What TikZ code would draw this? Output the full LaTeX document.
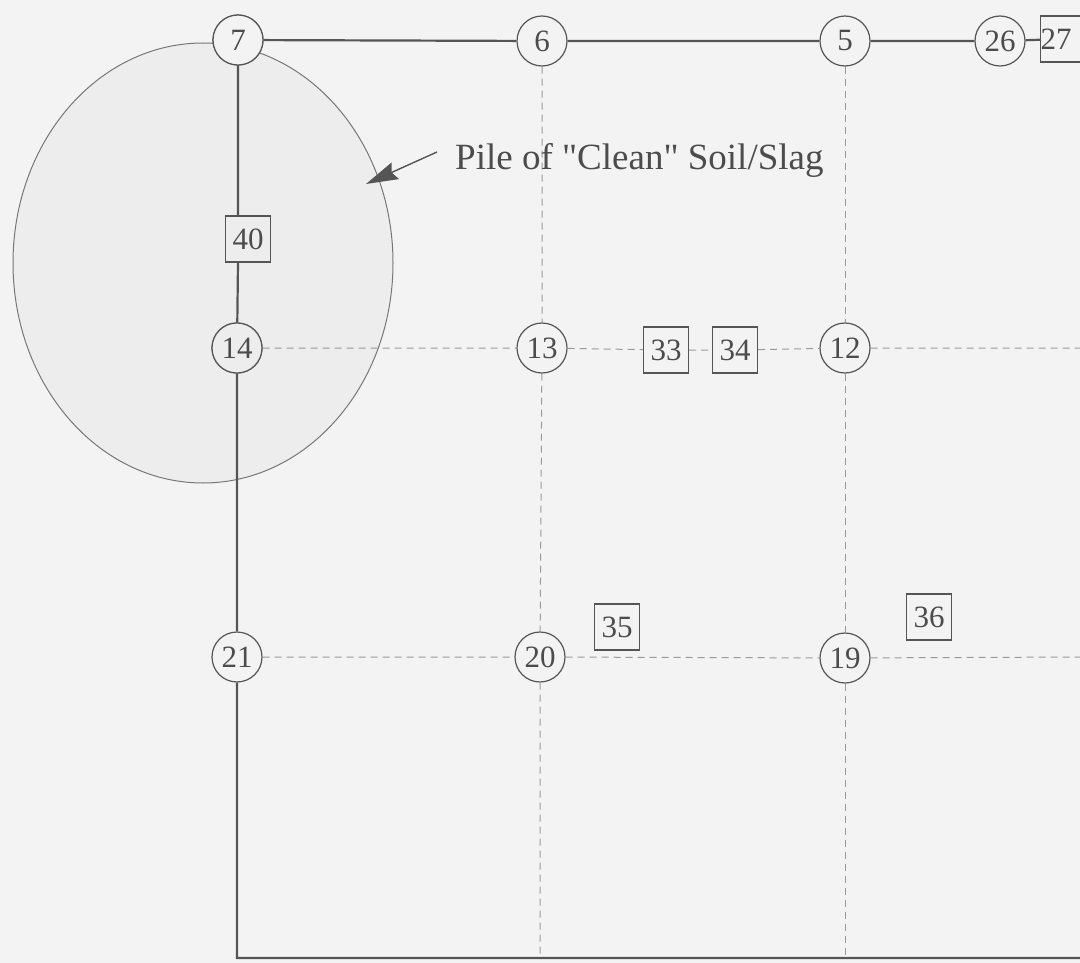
\documentclass[tikz,border=0pt]{standalone}
\usepackage{fontspec}
\setmainfont{Liberation Serif}[Ligatures=TeXOff]
\usetikzlibrary{arrows.meta}
\definecolor{bg}{HTML}{F3F3F3}
\definecolor{pile}{HTML}{EDEDED}
\definecolor{ink}{HTML}{555555}
\definecolor{dash}{HTML}{9A9A9A}
\begin{document}
\begin{tikzpicture}[x=1pt,y=-1pt,
  num/.style={font=\fontsize{31}{36}\selectfont, text=ink!90!black},
  well/.style={num, circle, draw=ink, line width=1.2pt, fill=bg, minimum size=50pt, inner sep=0pt},
  wellp/.style={well, fill=pile},
  sbox/.style={num, rectangle, draw=ink, line width=1.2pt, fill=bg, minimum width=45pt, minimum height=46pt, inner sep=0pt},
  sboxp/.style={sbox, fill=pile},
  solidline/.style={draw=ink, line width=2.2pt},
  dashline/.style={draw=dash, line width=1pt, dash pattern=on 7pt off 5pt},
]
\useasboundingbox (0,0) rectangle (1080,963);
\clip (0,0) rectangle (1080,963);
\fill[bg] (0,0) rectangle (1080,963);
% pile
\draw[fill=pile, draw=ink!80, line width=1pt] (203,263) ellipse [x radius=190, y radius=220];
% free ends
\coordinate (b1) at (237,958);
\coordinate (b2) at (540,958);
\coordinate (b3) at (845,958);
\coordinate (b4) at (1080,958);
\coordinate (r1) at (1080,348);
\coordinate (r2) at (1080,657);
% nodes
\node[well] (n7) at (238,40) {7};
\node[well] (n6) at (542,41) {6};
\node[well] (n5) at (845,41) {5};
\node[well] (n26) at (1000,41) {26};
\node[sbox, anchor=west] (n27) at (1040,39) {27\phantom{0}};
\node[sboxp] (n40) at (248,239) {40};
\node[wellp] (n14) at (237,348) {14};
\node[well] (n13) at (542,348) {13};
\node[sbox] (n33) at (666,350) {33};
\node[sbox] (n34) at (735,350) {34};
\node[well] (n12) at (845,348) {12};
\node[well] (n21) at (237,657) {21};
\node[well] (n20) at (540,657) {20};
\node[well] (n19) at (845,658) {19};
\node[sbox] (n35) at (617,627) {35};
\node[sbox] (n36) at (929,617) {36};
% solid lines
\path[solidline] (n7) -- (n6) (n6) -- (n5) (n5) -- (n26) (n26) -- (n27);
\path[solidline] (n7) -- (n7 |- n40.north) (n7 |- n40.south) -- (n14) (n14) -- (n21) (n21) -- (b1) -- (b4);
% dashed lines
\path[dashline] (n6) -- (n13) (n13) -- (n20) (n20) -- (b2);
\path[dashline] (n5) -- (n12) (n12) -- (n19) (n19) -- (b3);
\path[dashline] (n14) -- (n13) (n13) -- (n33) (n33) -- (n34) (n34) -- (n12) (n12) -- (r1);
\path[dashline] (n21) -- (n20) (n20) -- (n19) (n19) -- (r2);
% redraw nodes on top
\node[well] at (n7) {7};
\node[wellp] at (n14) {14};
\node[sboxp] at (n40) {40};
% label
\node[font=\fontsize{37}{44}\selectfont, text=ink!90!black, anchor=west, inner sep=0pt] (lab) at (455,160) {Pile of "Clean" Soil/Slag};
\coordinate (tip) at (366,184);
\coordinate (tail) at (437,152);
\draw[draw=ink, line width=1.4pt, -{Stealth[length=32pt,width=18pt,inset=4pt]}] (tail) -- (tip);
\end{tikzpicture}
\end{document}
